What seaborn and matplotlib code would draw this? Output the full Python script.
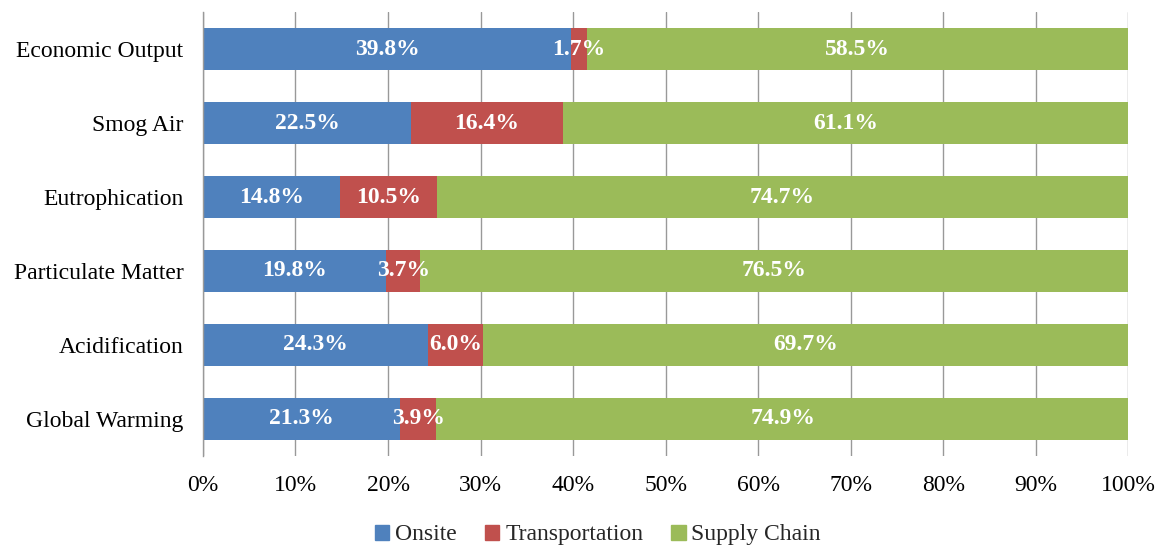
import matplotlib
matplotlib.use("Agg")
import matplotlib.pyplot as plt
import matplotlib.patches as mpatches
from matplotlib.ticker import FuncFormatter, MultipleLocator
import numpy as np
import pandas as pd
import seaborn as sns

# ── data ─────────────────────────────────────────────────────────────────────
categories = ["Economic Output", "Smog Air", "Eutrophication",
              "Particulate Matter", "Acidification", "Global Warming"]
onsite = [39.8, 22.5, 14.8, 19.8, 24.3, 21.3]
transportation = [1.7, 16.4, 10.5, 3.7, 6.0, 3.9]
supply_chain = [58.5, 61.1, 74.7, 76.5, 69.7, 74.9]

series_names = ["Onsite", "Transportation", "Supply Chain"]
colors = ["#4F81BD", "#C0504D", "#9BBB59"]

# ── style ────────────────────────────────────────────────────────────────────
sns.set_theme(style="white")
plt.rcParams["font.family"] = ["Liberation Serif", "DejaVu Serif"]

df = pd.DataFrame({"category": categories, "Onsite": onsite,
                   "Transportation": transportation, "Supply Chain": supply_chain})
cum = df[series_names].cumsum(axis=1)
starts = cum - df[series_names]

fig = plt.figure(figsize=(11.61, 5.48), dpi=100)
ax = fig.add_axes([0.1748, 0.168, 0.797, 0.810])

# draw cumulative totals back to front so the stacks show
for name, color in reversed(list(zip(series_names, colors))):
    sns.barplot(x=cum[name].clip(upper=100), y=df["category"], orient="h",
                color=color, saturation=1, width=0.57, ax=ax, linewidth=0)

# segment labels
for i in range(len(categories)):
    for name in series_names:
        val = df.loc[i, name]
        xc = starts.loc[i, name] + val / 2
        ax.text(xc, i, f"{val:.1f}%", ha="center", va="center",
                color="white", fontsize=17, fontweight="bold")

ax.set_xlim(0, 100)
ax.set_ylim(len(categories) - 0.5, -0.5)
ax.xaxis.set_major_locator(MultipleLocator(10))
ax.xaxis.set_major_formatter(FuncFormatter(lambda v, _: f"{v:.0f}%"))
ax.set_xlabel("")
ax.set_ylabel("")
ax.grid(axis="x", color="#999999", linewidth=1)
ax.grid(axis="y", visible=False)
ax.set_axisbelow(True)
ax.tick_params(axis="x", length=0, pad=14, labelsize=17, colors="black")
ax.tick_params(axis="y", length=0, pad=14, labelsize=17, colors="black")
for side in ("top", "right", "bottom"):
    ax.spines[side].set_visible(False)
ax.spines["left"].set_color("#999999")
ax.spines["left"].set_linewidth(1)

handles = [mpatches.Patch(color=c, label=n) for n, c in zip(series_names, colors)]
fig.legend(handles=handles, loc="center", bbox_to_anchor=(0.515, 0.024), ncol=3,
           frameon=False, fontsize=17, handlelength=0.6, handleheight=0.6,
           handletextpad=0.25, columnspacing=1.2)

fig.savefig("out.png", dpi=100)
